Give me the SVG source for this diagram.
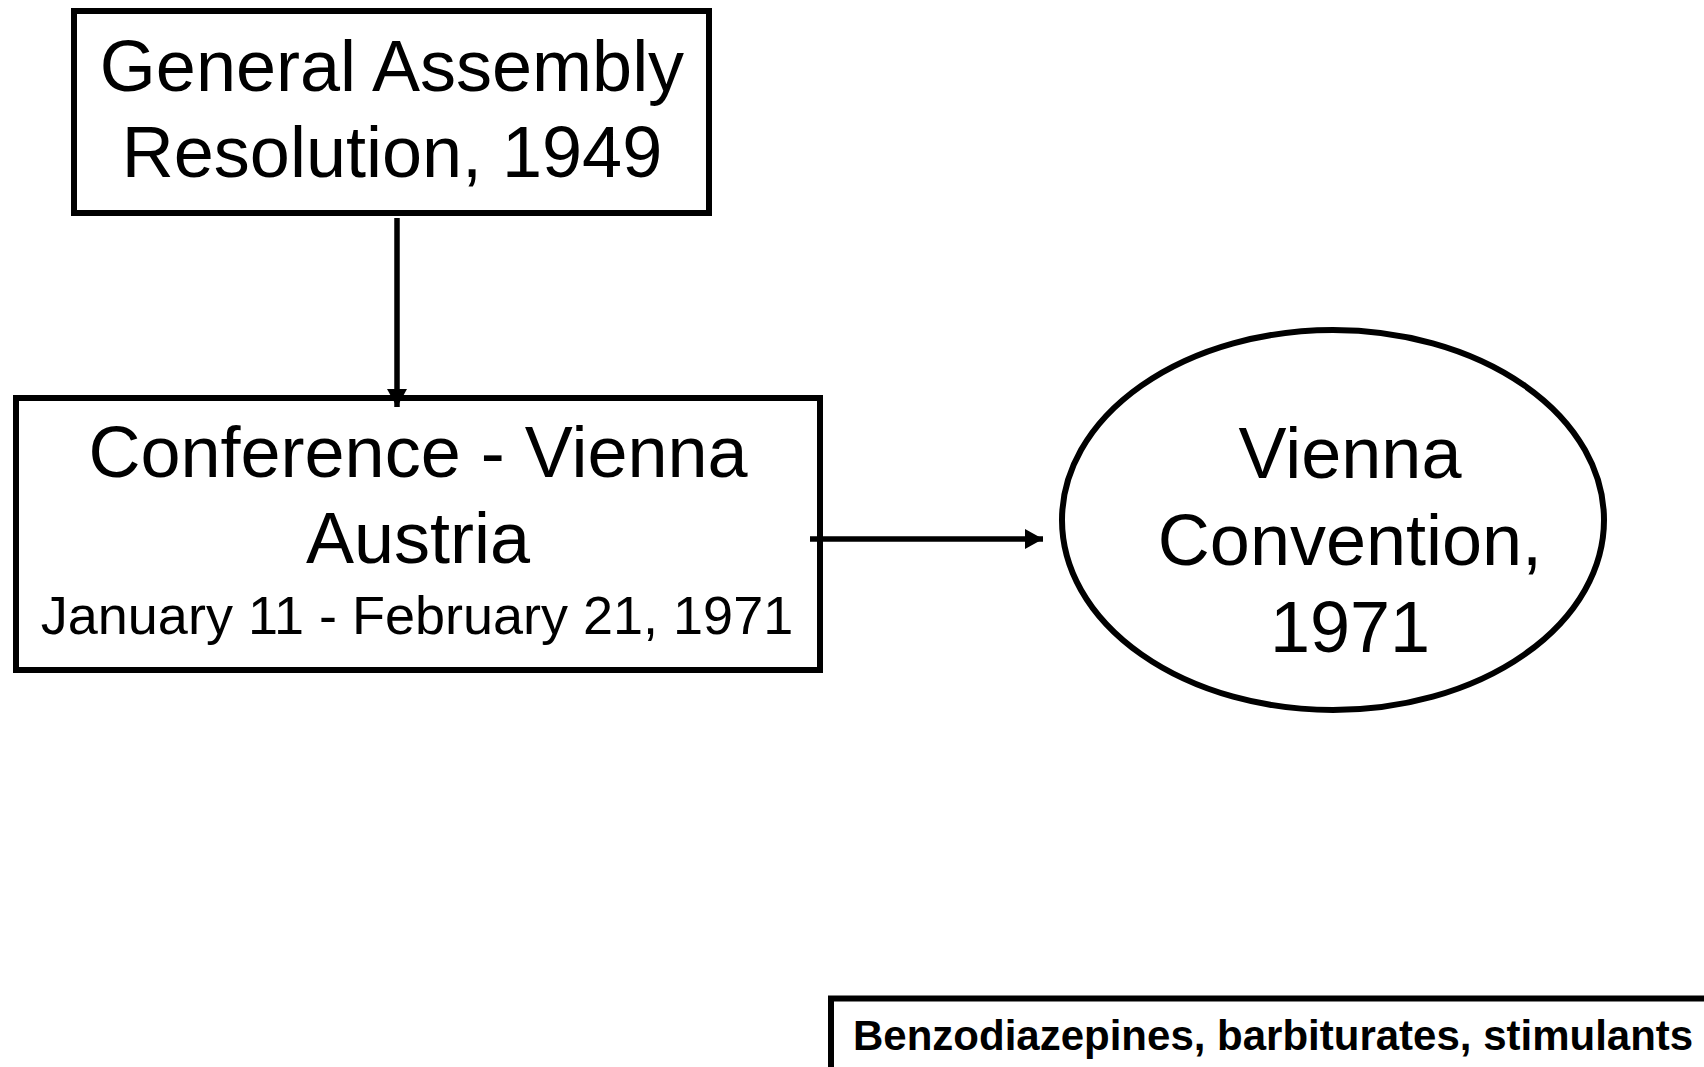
<svg xmlns="http://www.w3.org/2000/svg" width="1704" height="1067" viewBox="0 0 1704 1067">
<style>
.box{fill:#fff;stroke:#000;stroke-width:6}
.t{font-family:"Liberation Sans",Arial,sans-serif;fill:#000;text-anchor:middle}
.big{font-size:72px}
.mid{font-size:54px}
.bold{font-size:42px;font-weight:bold;text-anchor:start}
.conn{stroke:#000;stroke-width:5.5;fill:none}
</style>
<defs>
<marker id="ah" markerUnits="userSpaceOnUse" markerWidth="18" markerHeight="20" refX="18" refY="10" orient="auto">
<path d="M0,0 L18,10 L0,20 Z" fill="#000"/>
</marker>
</defs>
<rect width="1704" height="1067" fill="#fff"/>
<g id="node-resolution">
<rect class="box" x="74" y="11" width="635" height="202"/>
<text class="t big" x="392" y="91">General Assembly</text>
<text class="t big" x="392" y="177">Resolution, 1949</text>
</g>
<g id="node-conference">
<rect class="box" x="16" y="398" width="804" height="272"/>
<text class="t big" x="418" y="477">Conference - Vienna</text>
<text class="t big" x="418" y="563">Austria</text>
<text class="t mid" x="417" y="634">January 11 - February 21, 1971</text>
</g>
<g id="node-convention">
<ellipse class="box" cx="1333" cy="520" rx="271" ry="190"/>
<text class="t big" x="1350" y="478">Vienna</text>
<text class="t big" x="1350" y="565">Convention,</text>
<text class="t big" x="1350" y="652">1971</text>
</g>
<g id="node-substances">
<rect class="box" x="831" y="998.5" width="900" height="120"/>
<text class="t bold" x="853" y="1050">Benzodiazepines, barbiturates, stimulants</text>
</g>
<g id="connectors">
<line class="conn" x1="397" y1="218" x2="397" y2="407" marker-end="url(#ah)"/>
<line class="conn" x1="810" y1="539" x2="1043" y2="539" marker-end="url(#ah)"/>
</g>
</svg>
